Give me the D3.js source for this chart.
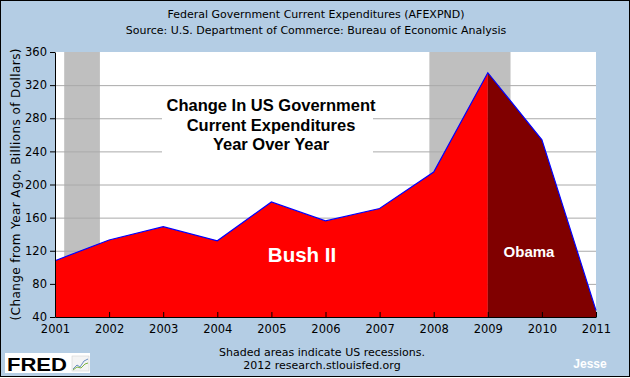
<!DOCTYPE html>
<html><head><meta charset="utf-8">
<script src="https://cdn.jsdelivr.net/npm/d3@7"></script>
<style>body{margin:0;padding:0;background:#fff}svg{display:block}</style>
</head><body><svg id="c" width="630" height="378"></svg>
<script>
const years = [2001,2002,2003,2004,2005,2006,2007,2008,2009,2010,2011];
const values = [108,133,149,132,179,156,171,215,335,254,48];
const recessions = [[2001.17,2001.83],[2007.92,2009.42]];
const yTicks = [40,80,120,160,200,240,280,320,360];
const xTicks = years;
const splitYear = 2009;

const svg = d3.select("#c");
const W=630,H=378;
const L=55,R=596,T=52,B=317;
const font="DejaVu Sans, Verdana, sans-serif";
const x = d3.scaleLinear().domain([2001,2011]).range([L,R]);
const y = d3.scaleLinear().domain([40,360]).range([B,T]);
const data = years.map((yr,i)=>({yr,v:values[i]}));

svg.append("rect").attr("x",0.5).attr("y",0.5).attr("width",W-1).attr("height",H-2).attr("fill","#b4cde4").attr("stroke","#000");
svg.append("rect").attr("x",L).attr("y",T).attr("width",R-L).attr("height",B-T).attr("fill","#fff");

// recessions
svg.selectAll(".rec").data(recessions).join("rect")
 .attr("x",d=>x(d[0])).attr("width",d=>x(d[1])-x(d[0]))
 .attr("y",T).attr("height",B-T).attr("fill","#bfbfbf");

// gridlines
svg.selectAll(".grid").data(yTicks.filter(t=>t>40&&t<360)).join("line")
 .attr("x1",L).attr("x2",R).attr("y1",d=>y(d)+0.5).attr("y2",d=>y(d)+0.5)
 .attr("stroke","#aaaaaa").attr("stroke-width",1);

// areas
const area = d3.area().x(d=>x(d.yr)).y0(y(40)).y1(d=>y(d.v));
svg.append("path").datum(data.filter(d=>d.yr<=splitYear)).attr("d",area).attr("fill","#ff0000");
svg.append("path").datum(data.filter(d=>d.yr>=splitYear)).attr("d",area).attr("fill","#800000");
svg.append("path").datum(data).attr("d",d3.line().x(d=>x(d.yr)).y(d=>y(d.v)))
 .attr("fill","none").attr("stroke","#0000ff").attr("stroke-width",1.2);

// annotation box
svg.append("rect").attr("x",162).attr("y",94).attr("width",211).attr("height",66).attr("fill","#fff");
const ann = ["Change In US Government","Current Expenditures","Year Over Year"];
svg.selectAll(".ann").data(ann).join("text")
 .attr("x",271).attr("y",(d,i)=>111+i*19.5).attr("text-anchor","middle")
 .attr("font-family","Liberation Sans, Arial, sans-serif").attr("font-weight","bold").attr("font-size",16.5)
 .attr("fill","#000").text(d=>d);

svg.append("text").attr("x",302).attr("y",262).attr("text-anchor","middle")
 .attr("font-family","Liberation Sans, Arial, sans-serif").attr("font-weight","bold").attr("font-size",20.5)
 .attr("fill","#fff").text("Bush II");
svg.append("text").attr("x",529).attr("y",257).attr("text-anchor","middle")
 .attr("font-family","Liberation Sans, Arial, sans-serif").attr("font-weight","bold").attr("font-size",15)
 .attr("fill","#fff").text("Obama");

// axes
const xa = svg.append("g").attr("transform",`translate(0,${B})`)
 .call(d3.axisBottom(x).tickValues(xTicks).tickFormat(d3.format("d")).tickSize(-5).tickSizeOuter(0).tickPadding(8));
const ya = svg.append("g").attr("transform",`translate(${L},0)`)
 .call(d3.axisLeft(y).tickValues(yTicks).tickSize(5).tickSizeOuter(0).tickPadding(3));
[xa,ya].forEach(g=>{
  g.selectAll("text").attr("font-family",font).attr("font-size",11.5).attr("fill","#000");
  g.selectAll("line,path").attr("stroke","#000");
});
xa.selectAll("text").attr("dy","0.71em").attr("y",8);

svg.append("text").attr("transform","translate(20,184.5) rotate(-90)").attr("text-anchor","middle")
 .attr("font-family",font).attr("font-size",12).attr("fill","#000")
 .attr("textLength",272).attr("lengthAdjust","spacing")
 .text("(Change from Year Ago, Billions of Dollars)");

// titles
svg.append("text").attr("x",316).attr("y",18).attr("text-anchor","middle").attr("font-family",font).attr("font-size",11).attr("fill","#000")
 .text("Federal Government Current Expenditures (AFEXPND)");
svg.append("text").attr("x",316).attr("y",34).attr("text-anchor","middle").attr("font-family",font).attr("font-size",11).attr("fill","#000")
 .text("Source: U.S. Department of Commerce: Bureau of Economic Analysis");
svg.append("text").attr("x",322).attr("y",356).attr("text-anchor","middle").attr("font-family",font).attr("font-size",11).attr("fill","#000")
 .text("Shaded areas indicate US recessions.");
svg.append("text").attr("x",322).attr("y",369).attr("text-anchor","middle").attr("font-family",font).attr("font-size",11).attr("fill","#000")
 .text("2012 research.stlouisfed.org");

// FRED logo
svg.append("rect").attr("x",5).attr("y",353).attr("width",85).attr("height",20).attr("fill","#fff");
svg.append("text").attr("x",7).attr("y",371).attr("font-family","Liberation Sans, Arial, sans-serif").attr("font-weight","bold")
 .attr("font-size",19).attr("fill","#000").attr("textLength",60).attr("lengthAdjust","spacingAndGlyphs").text("FRED");
const icon = svg.append("g").attr("transform","translate(72,356)");
icon.append("rect").attr("width",17).attr("height",15).attr("fill","#f4f4f4").attr("stroke","#ccc").attr("stroke-width",0.5);
icon.append("path").attr("d","M1,13 L5,9 L8,11 L12,5 L16,3").attr("fill","none").attr("stroke","#6b8fc2").attr("stroke-width",1);
icon.append("path").attr("d","M1,14 L5,11 L9,12 L13,8 L16,7").attr("fill","none").attr("stroke","#7cb342").attr("stroke-width",1);

svg.append("text").attr("x",590).attr("y",368).attr("text-anchor","middle")
 .attr("font-family","Liberation Sans, Arial, sans-serif").attr("font-weight","bold").attr("font-size",12)
 .attr("fill","#fff").text("Jesse");
</script></body></html>
